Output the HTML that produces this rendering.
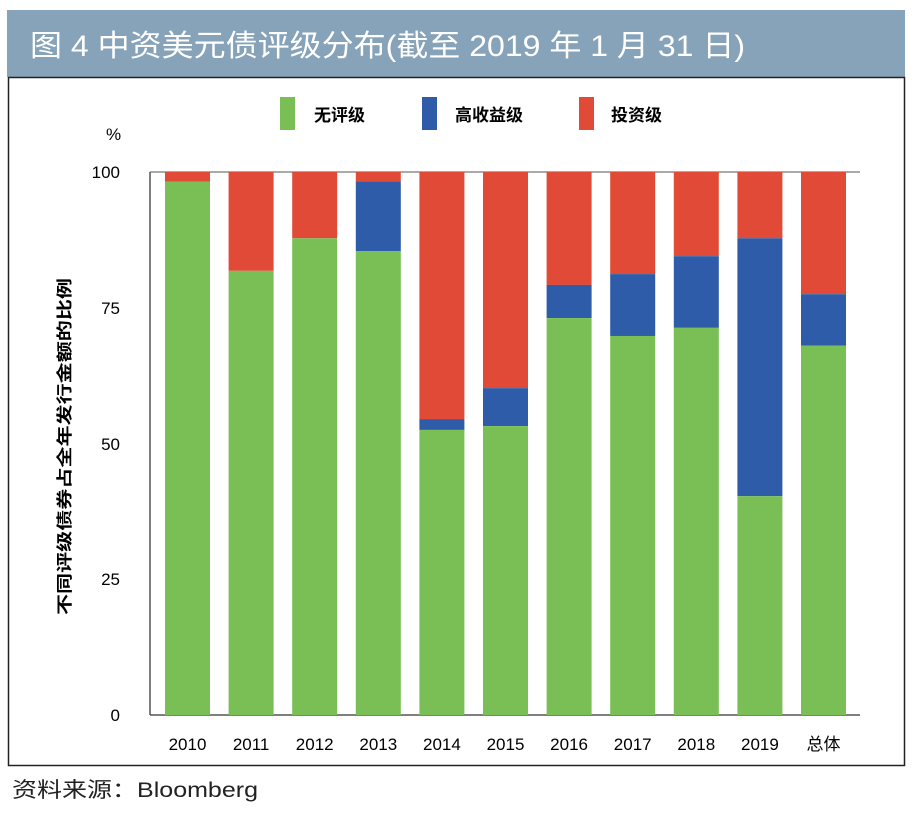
<!DOCTYPE html>
<html><head><meta charset="utf-8"><style>
body{margin:0;width:916px;height:814px;background:#fff;overflow:hidden;font-family:"Liberation Sans","Noto Sans CJK SC",sans-serif;}
</style></head><body>
<svg width="916" height="814" xmlns="http://www.w3.org/2000/svg" font-family="Liberation Sans, Noto Sans CJK SC, sans-serif">
<rect x="7" y="10" width="898" height="67" fill="#86a3b9"/>
<text x="30" y="56" font-size="30" fill="#fff" textLength="715" lengthAdjust="spacingAndGlyphs">图 4  中资美元债评级分布(截至 2019 年 1 月 31 日)</text>
<rect x="8.5" y="77.5" width="896" height="688" fill="none" stroke="#222" stroke-width="1.5"/>
<rect x="280" y="97" width="15" height="33" fill="#7abf56"/><text x="314" y="121" font-size="17" font-weight="bold">无评级</text>
<rect x="422" y="97" width="15" height="33" fill="#2f5ca8"/><text x="455" y="121" font-size="17" font-weight="bold">高收益级</text>
<rect x="579" y="97" width="15" height="33" fill="#e04a36"/><text x="611" y="121" font-size="17" font-weight="bold">投资级</text>
<text x="106" y="140" font-size="17">%</text>
<g font-size="17" text-anchor="end">
<text x="120" y="178">100</text><text x="120" y="314">75</text><text x="120" y="450">50</text><text x="120" y="585">25</text><text x="120" y="721">0</text>
</g>
<text transform="translate(70,615) rotate(-90)" font-size="16" font-weight="bold" textLength="337" lengthAdjust="spacingAndGlyphs">不同评级债券占全年发行金额的比例</text>
<line x1="150" y1="172" x2="860" y2="172" stroke="#aaa" stroke-width="2"/>
<line x1="150" y1="172" x2="150" y2="715" stroke="#555" stroke-width="1.5"/>
<line x1="150" y1="715" x2="860" y2="715" stroke="#555" stroke-width="1.5"/>
<g id="bars"></g>
<g font-size="17" text-anchor="middle" id="labels"></g>
<text x="12" y="797" font-size="21" fill="#222" textLength="246" lengthAdjust="spacingAndGlyphs">资料来源：Bloomberg</text>
<script>
var d=[["2010",98.2,98.2],["2011",81.8,81.8],["2012",87.8,87.8],["2013",85.4,98.3],["2014",52.5,54.5],["2015",53.2,60.2],["2016",73.1,79.2],["2017",69.8,81.2],["2018",71.3,84.5],["2019",40.3,87.8],["总体",68,77.5]];
var ns="http://www.w3.org/2000/svg",b=document.getElementById("bars"),l=document.getElementById("labels");
function y(v){return 715-v*5.43;}
function r(x,y1,y2,c){var e=document.createElementNS(ns,"rect");e.setAttribute("x",x);e.setAttribute("y",y1);e.setAttribute("width",45);e.setAttribute("height",Math.max(0,y2-y1));e.setAttribute("fill",c);b.appendChild(e);}
d.forEach(function(a,i){var x=165+i*63.6;
r(x,y(100),y(a[2]),"#e04a36");r(x,y(a[2]),y(a[1]),"#2f5ca8");r(x,y(a[1]),715,"#7abf56");
var t=document.createElementNS(ns,"text");t.setAttribute("x",x+22.5);t.setAttribute("y",750);t.textContent=a[0];l.appendChild(t);});
</script>
</svg>
</body></html>
